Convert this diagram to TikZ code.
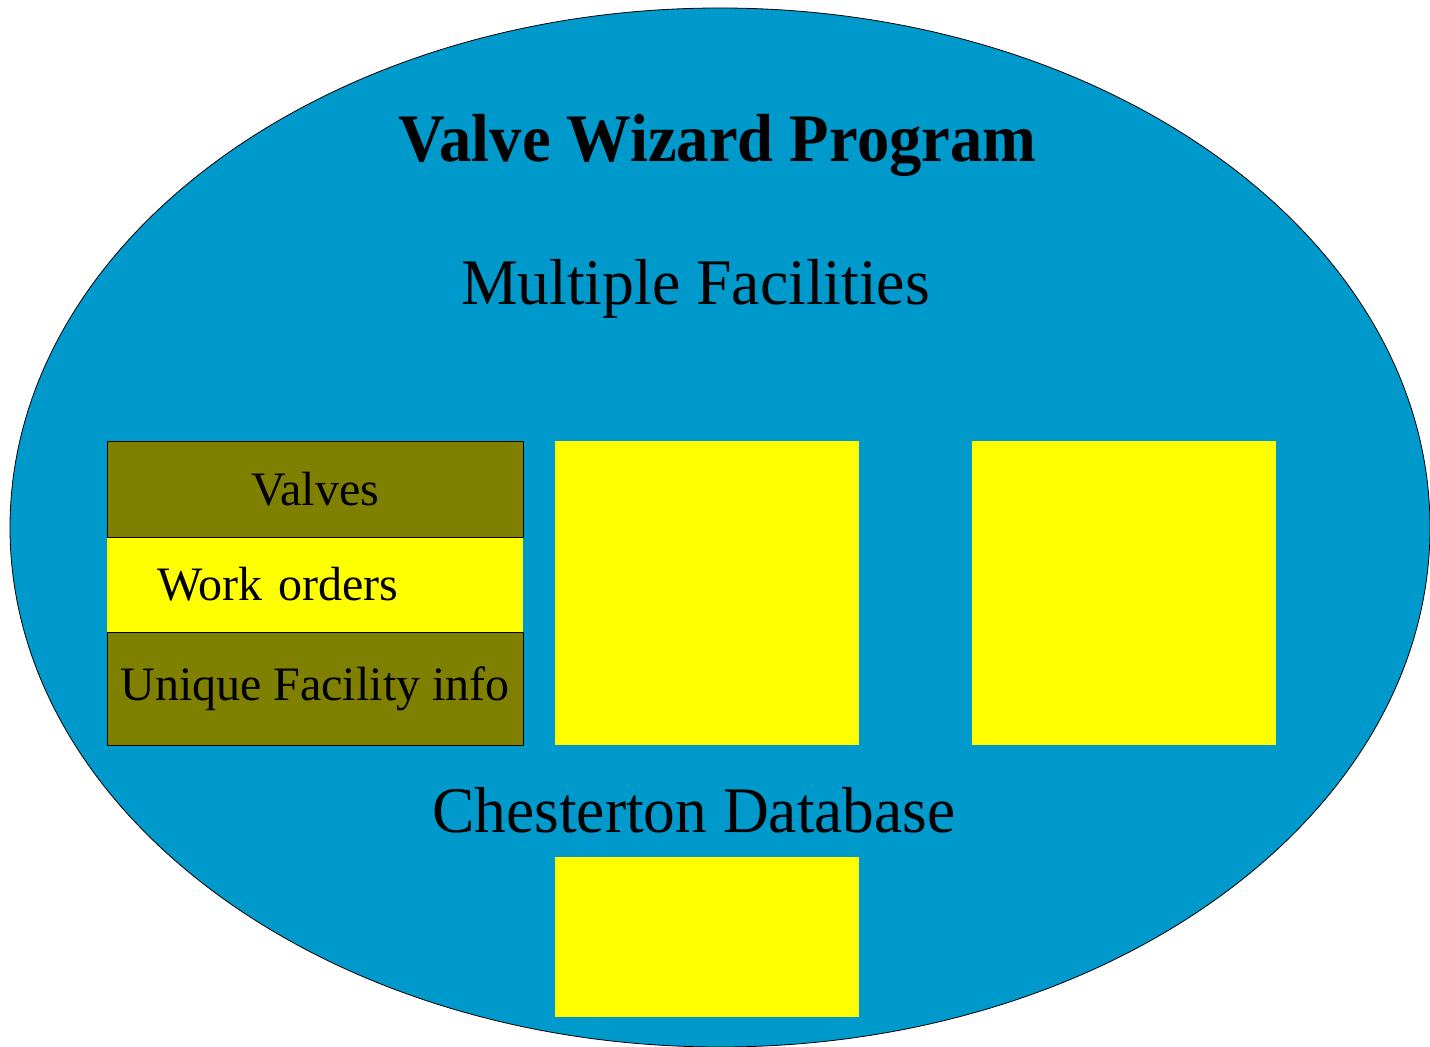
\documentclass[tikz,border=0pt]{standalone}
\usepackage{graphicx}
\usepackage{fontspec}
\setmainfont{Liberation Serif}
\usetikzlibrary{positioning}

\definecolor{wizblue}{HTML}{0099CC}
\definecolor{wizolive}{HTML}{808000}
\definecolor{wizyellow}{HTML}{FFFF00}

\newcommand{\squeeze}[2]{\scalebox{#1}[1]{#2}}

\tikzset{
  olivebox/.style={draw=black, fill=wizolive, minimum width=208pt, inner sep=0pt,
                   outer sep=0pt, font=\fontsize{24}{28}\selectfont},
  yellowband/.style={fill=wizyellow, text width=158pt, inner xsep=25pt, inner ysep=0pt,
                     align=left, outer sep=0pt, font=\fontsize{24}{28}\selectfont},
  facbox/.style={fill=wizyellow, minimum width=152pt, minimum height=152pt, inner sep=0pt},
  bigtext/.style={font=\fontsize{32.5}{38}\selectfont, inner sep=0pt, anchor=base}
}

\begin{document}
\begin{tikzpicture}[x=0.5pt, y=-0.5pt]
\useasboundingbox (0,0) rectangle (1430,1047);

% program ellipse
\draw[fill=wizblue] (720,527.5) ellipse [x radius=710, y radius=519.5];

\node[font=\fontsize{34}{40}\selectfont\bfseries, inner sep=0pt, anchor=base] (title) at (717.5,162) {\squeeze{0.95}{Valve Wizard Program}};
\node[bigtext] (multi) at (695.5,305) {\squeeze{0.98}{Multiple Facilities}};

% first facility, split in three
\node[yellowband, minimum height=47.5pt, anchor=north west] (orders) at (107,537) {Work orders};
\node[olivebox, minimum height=48pt, above=0pt of orders] (valves) {Valves};
\node[olivebox, minimum height=56.5pt, below=0pt of orders] (unique) {Unique Facility info};

% other facilities
\node[facbox, anchor=north west] (fac2) at (555,441) {};
\node[facbox, right=56pt of fac2] (fac3) {};

\node[bigtext] (chest) at (694,832) {\squeeze{0.976}{Chesterton Database}};
\node[facbox, minimum height=80pt, anchor=north west] (db) at (555,857) {};
\end{tikzpicture}
\end{document}
